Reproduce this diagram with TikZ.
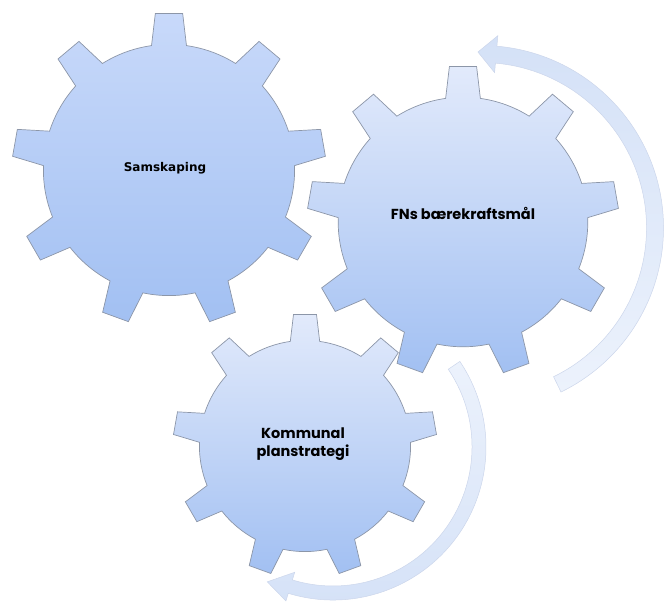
\documentclass[tikz,border=0pt]{standalone}
\usepackage{fontspec}
\setmainfont{Poppins}
\newfontfamily\samfont{DejaVu Sans}
\usetikzlibrary{calc}

\definecolor{cogline}{RGB}{140,150,168}
\definecolor{bandline}{RGB}{204,214,235}
\definecolor{bandA}{RGB}{236,242,252}
\definecolor{bandB}{RGB}{212,225,247}
\definecolor{cogtop}{RGB}{226,234,251}
\definecolor{cogmid}{RGB}{200,217,250}
\definecolor{cogbot}{RGB}{162,192,242}

\tikzset{
  cog/.style={draw=cogline, line width=0.7pt},
  arcband/.style={draw=bandline, line width=0.5pt},
  gearlabel/.style={font=\bfseries\fontsize{14.5}{18}\selectfont, align=center, text=black}
}

% tannhjul med 9 tenner: #1 senter, #2 ytre radius, #3 fyll
\newcommand{\cog}[3]{%
  \path[cog,#3] ($(#1)+(82:0.8*#2)$)
  \foreach \k in {0,...,8}{
    -- ($(#1)+(\k*40+85:#2)$) -- ($(#1)+(\k*40+95:#2)$)
    -- ($(#1)+(\k*40+98:0.8*#2)$)
    arc[start angle=\k*40+98, end angle=\k*40+122, radius=0.8*#2]
  } -- cycle;}

\begin{document}
\begin{tikzpicture}[x=1pt, y=1pt, line width=0.7pt]
\useasboundingbox (0,0) rectangle (672,602);

\coordinate (g1) at (169,432);
\coordinate (g2) at (463,380);
\coordinate (g3) at (305,156);
\coordinate (ca) at (481,374);
\coordinate (cb) at (333,155);

%piler rundt hjulene
\path[arcband, top color=bandB, bottom color=bandA]
  ($(ca)+(-64:165.5)$) arc[start angle=-64, end angle=85, radius=165.5]
  -- ($(ca)+(85:156)$) -- ($(ca)+(91:176)$) -- ($(ca)+(85:193)$)
  -- ($(ca)+(85:182.5)$) arc[start angle=85, end angle=-64, radius=182.5] -- cycle;
\path[arcband, top color=bandA, bottom color=bandB]
  ($(cb)+(34:139)$) arc[start angle=34, end angle=-107, radius=139]
  -- ($(cb)+(-107:131)$) -- ($(cb)+(-116:150)$) -- ($(cb)+(-107:161)$)
  -- ($(cb)+(-107:153)$) arc[start angle=-107, end angle=34, radius=153] -- cycle;

%hjulene
\cog{g1}{157}{top color=cogmid, middle color=cogmid!80!white, bottom color=cogbot}
\cog{g2}{156}{top color=cogtop, middle color=cogmid, bottom color=cogbot}
\cog{g3}{132}{top color=cogtop, middle color=cogmid, bottom color=cogbot}

\node[gearlabel, font=\samfont\bfseries\fontsize{12}{14}\selectfont] (sam) at (165,434) {Samskaping};
\node[gearlabel] (fns) at (463,389) {FNs bærekraftsmål};
\node[gearlabel] (plan) at (303,158) {Kommunal\\planstrategi};
\end{tikzpicture}
\end{document}
